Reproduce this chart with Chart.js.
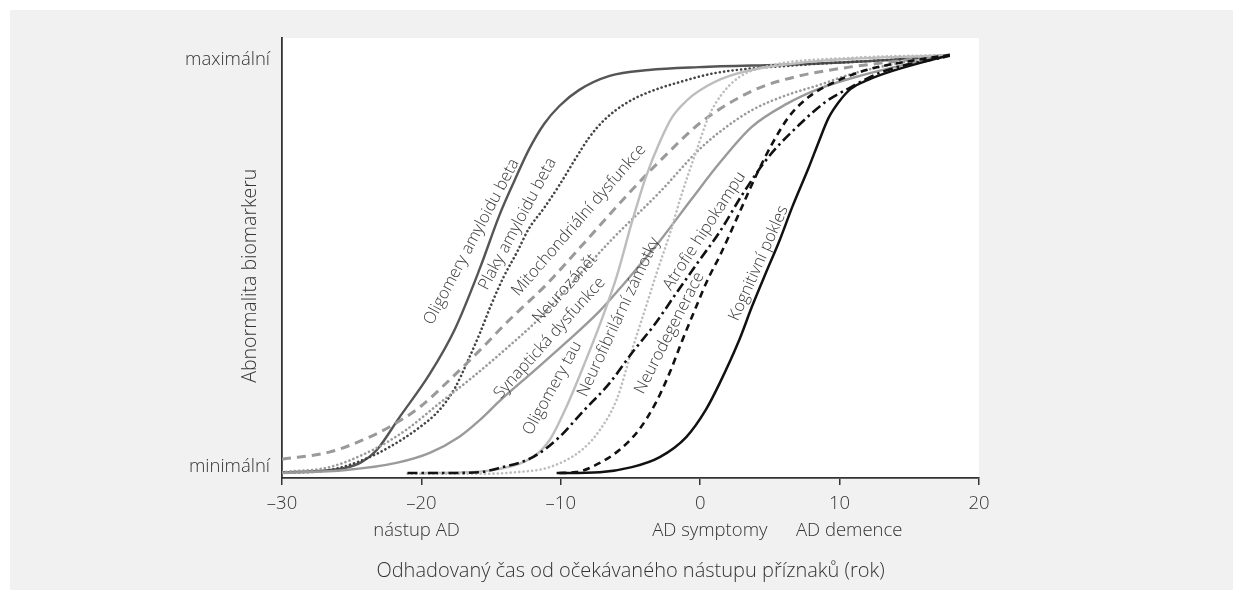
<!DOCTYPE html>
<html>
<head>
<meta charset="utf-8">
<script src="https://cdn.jsdelivr.net/npm/chart.js@4/dist/chart.umd.min.js"></script>
<style>
  html, body { margin: 0; padding: 0; background: #ffffff; width: 1243px; height: 602px; overflow: hidden; }
  #panel { position: absolute; left: 10px; top: 10px; width: 1223px; height: 580px; background: #f1f1f1; }
  #c { position: absolute; left: 0; top: 0; }
</style>
</head>
<body>
<div id="panel"></div>
<canvas id="c" width="1243" height="602"></canvas>
<script>
// ---- Data (x = years from expected symptom onset, y = biomarker abnormality 0..100) ----
const oligomeryAmyloiduBeta = [[-30,0.2],[-27.3,0.5],[-25.5,1.2],[-24.3,2.6],[-23.2,5.5],[-21.6,13.2],[-19.4,23.7],[-17.6,34.4],[-15.8,49.0],[-14.4,61.7],[-13.3,70.1],[-12.3,77.3],[-11.2,83.5],[-10.1,87.8],[-8.7,91.6],[-6.5,95.0],[-3.7,96.4],[-0.1,97.1],[7.1,97.8],[14.3,99.0],[17.9,100]];
const plakyAmyloiduBeta = [[-30,0],[-26.6,0.7],[-24.2,3.1],[-22.3,6.2],[-20.1,11.0],[-18.7,15.1],[-17.6,20.3],[-16.7,26.6],[-15.8,33.5],[-15.0,40.2],[-14.1,46.9],[-13.1,53.1],[-12.3,58.4],[-11.2,63.4],[-10.1,68.9],[-9.0,74.9],[-8.0,80.1],[-6.9,84.4],[-5.4,88.3],[-3.7,91.1],[-1.5,93.5],[1.1,95.7],[7.1,97.6],[14.3,99.0],[17.9,100]];
const mitochondrialniDysfunkce = [[-30,3.3],[-26.6,5.0],[-24.2,7.9],[-22.3,11.0],[-20.1,15.8],[-18.0,22.2],[-15.8,29.4],[-13.7,36.6],[-11.0,45.2],[-8.2,55.5],[-4.9,67.7],[-2.4,76.3],[-0.1,83.5],[2.1,88.5],[4.2,92.1],[7.1,95.0],[10.7,97.1],[14.3,98.6],[17.9,100]];
const neurozanet = [[-30,0.2],[-26.6,1.4],[-23.5,5.5],[-21.1,10.3],[-18.7,16.7],[-16.3,23.0],[-13.7,30.4],[-11.5,37.1],[-9.6,44.0],[-6.3,56.0],[-2.9,67.2],[-0.1,77.3],[1.4,81.6],[3.7,86.8],[6.2,90.4],[8.5,92.8],[10.9,95.5],[14.3,98.1],[17.9,100]];
const synaptickaDysfunkce = [[-30,0],[-25.4,0.7],[-21.8,2.4],[-19.4,4.8],[-17.3,8.6],[-15.8,12.7],[-14.4,17.2],[-12.0,24.2],[-9.6,31.3],[-7.2,38.8],[-5.8,44.0],[-4.4,49.5],[-2.9,55.5],[-0.6,65.6],[1.4,74.2],[3.7,82.8],[6.2,88.3],[8.5,91.9],[10.9,94.5],[14.3,97.4],[17.9,100]];
const oligomeryTau = [[-20.0,0],[-16.6,0.2],[-14.4,1.0],[-12.0,3.8],[-10.8,7.9],[-9.6,15.8],[-8.2,27.0],[-7.0,37.3],[-6.0,46.9],[-4.9,60.0],[-3.9,70.8],[-2.9,79.2],[-2.0,85.2],[-1.0,89.0],[-0.1,91.4],[2.1,95.0],[7.1,98.1],[17.9,100]];
const neurofibrilarniZamotky = [[-21.0,-0.2],[-15.8,-0.2],[-13.2,0.2],[-10.8,1.4],[-8.5,5.5],[-7.2,10.3],[-6.0,17.5],[-4.9,29.4],[-3.9,39.7],[-3.1,48.1],[-2.2,57.0],[-1.3,67.0],[-0.3,76.8],[0.6,85.2],[1.5,90.4],[2.8,94.7],[5.2,97.6],[10.7,99.3],[17.9,100]];
const atrofieHipokampu = [[-21.0,0],[-18.0,0],[-15.8,0.2],[-14.4,1.2],[-12.0,3.8],[-10.1,8.6],[-8.5,14.4],[-6.5,21.5],[-4.9,28.7],[-3.3,35.4],[-1.7,43.1],[-0.1,50.7],[1.4,57.7],[3.0,66.5],[4.9,75.6],[7.1,83.3],[9.0,88.8],[10.7,92.1],[13.0,95.9],[17.9,99.8]];
const neurodegenerace = [[-10.1,0],[-8.9,0.2],[-7.2,2.4],[-5.8,5.5],[-4.4,10.3],[-3.2,16.7],[-2.2,23.9],[-1.3,31.6],[-0.3,39.7],[0.6,46.7],[1.4,51.9],[2.8,62.2],[4.0,71.1],[5.2,79.0],[6.4,85.4],[7.8,90.0],[9.5,93.3],[11.9,96.4],[15.5,98.8],[17.9,100]];
const kognitivniPokles = [[-10.3,0],[-7.2,0.2],[-4.9,1.4],[-2.9,3.8],[-1.0,8.6],[0.4,15.1],[1.4,21.5],[2.8,31.8],[3.7,39.7],[4.7,47.8],[5.7,55.7],[6.6,63.6],[7.8,73.2],[8.5,79.2],[9.2,84.9],[10.0,89.0],[10.8,91.9],[12.0,94.0],[13.8,96.2],[17.9,100]];

const seriesNames = ['Oligomery amyloidu beta','Plaky amyloidu beta','Mitochondriální dysfunkce','Neurozánět','Synaptická dysfunkce','Oligomery tau','Neurofibrilární zámotky','Atrofie hipokampu','Neurodegenerace','Kognitivní pokles'];
const xTickValues = [-30,-20,-10,0,10,20];
const xTickLabels = ['–30','–20','–10','0','10','20'];
const xTickSubLabels = ['', 'nástup AD\u00A0\u00A0', '', '\u00A0\u00A0\u00A0\u00A0AD symptomy', '\u00A0\u00A0\u00A0\u00A0AD demence', ''];
const yTickValues = [1.4, 98.8];
const yTickLabels = ['minimální', 'maximální'];
const xTitle = 'Odhadovaný čas od očekávaného nástupu příznaků (rok)';
const yTitle = 'Abnormalita biomarkeru\u00A0\u00A0\u00A0\u00A0\u00A0\u00A0\u00A0';

// ---- Styles ----
const FONT = "'Open Sans', 'DejaVu Sans', sans-serif";
const seriesData = [oligomeryAmyloiduBeta, plakyAmyloiduBeta, mitochondrialniDysfunkce, neurozanet, synaptickaDysfunkce, oligomeryTau, neurofibrilarniZamotky, atrofieHipokampu, neurodegenerace, kognitivniPokles];
const seriesStyle = [
  {color:'#555555', dash:[], width:2.4, cap:'butt'},
  {color:'#444444', dash:[0.1,4.2], width:2.6, cap:'round'},
  {color:'#9a9a9a', dash:[9,6], width:3, cap:'butt'},
  {color:'#9a9a9a', dash:[0.1,4.2], width:2.6, cap:'round'},
  {color:'#9a9a9a', dash:[], width:2.4, cap:'butt'},
  {color:'#bdbdbd', dash:[], width:2.4, cap:'butt'},
  {color:'#bdbdbd', dash:[0.1,4.2], width:2.6, cap:'round'},
  {color:'#111111', dash:[10,4,2.5,4], width:2.6, cap:'butt'},
  {color:'#111111', dash:[7,5], width:2.6, cap:'butt'},
  {color:'#111111', dash:[], width:2.5, cap:'butt'}
];
// label anchors (data coords) and rotation in degrees
const labelPlacement = [
  {x:-16.4, y:55.3, a:-62},
  {x:-13.1, y:59.6, a:-62},
  {x:-8.7, y:60.5, a:-49},
  {x:-9.7, y:44.1, a:-48},
  {x:-10.8, y:32.3, a:-48},
  {x:-10.6, y:20.3, a:-61},
  {x:-5.85, y:37.3, a:-65},
  {x:0.3, y:57.9, a:-57},
  {x:-2.2, y:33.5, a:-63},
  {x:4.2, y:50.2, a:-66}
];

const datasets = seriesData.map((arr, i) => ({
  label: seriesNames[i],
  data: arr.map(p => ({x: p[0], y: p[1]})),
  borderColor: seriesStyle[i].color,
  borderWidth: seriesStyle[i].width,
  borderDash: seriesStyle[i].dash,
  borderCapStyle: seriesStyle[i].cap,
  pointRadius: 0,
  fill: false,
  cubicInterpolationMode: 'monotone',
  order: 10 - i
}));

const plotBg = {
  id: 'plotBg',
  beforeDraw(chart) {
    const {ctx, chartArea: a} = chart;
    ctx.save();
    ctx.fillStyle = '#ffffff';
    ctx.fillRect(a.left, a.top, a.right - a.left, a.bottom - a.top);
    ctx.restore();
  }
};

const curveLabels = {
  id: 'curveLabels',
  afterDatasetsDraw(chart) {
    const {ctx, scales: {x, y}} = chart;
    ctx.save();
    ctx.font = '300 16.5px ' + FONT;
    ctx.fillStyle = '#3a3a3a';
    ctx.textAlign = 'center';
    ctx.textBaseline = 'middle';
    seriesNames.forEach((name, i) => {
      const p = labelPlacement[i];
      ctx.save();
      ctx.translate(x.getPixelForValue(p.x), y.getPixelForValue(p.y));
      ctx.rotate(p.a * Math.PI / 180);
      ctx.fillText(name, 0, 0);
      ctx.restore();
    });
    ctx.restore();
  }
};

new Chart(document.getElementById('c'), {
  type: 'line',
  data: { datasets },
  options: {
    responsive: false,
    animation: false,
    devicePixelRatio: 1,
    layout: { padding: { left: 170, right: 264, top: 38, bottom: 0 } },
    plugins: { legend: { display: false }, tooltip: { enabled: false } },
    scales: {
      x: {
        type: 'linear',
        min: -30, max: 20,
        afterFit(scale) { scale.height = 124; },
        afterBuildTicks(scale) { scale.ticks = xTickValues.map(v => ({value: v})); },
        ticks: {
          autoSkip: false, maxRotation: 0, padding: 5,
          color: '#333333',
          font: { family: FONT, size: 18.5, weight: '300', lineHeight: 1.45 },
          callback(v) {
            const i = xTickValues.indexOf(v);
            return i < 0 ? '' : [xTickLabels[i], xTickSubLabels[i]];
          }
        },
        grid: { drawOnChartArea: false, drawTicks: true, tickLength: 7, color: '#333333', lineWidth: 1.5 },
        border: { display: true, color: '#333333', width: 1.8 },
        title: {
          display: true, text: xTitle, color: '#333333',
          font: { family: FONT, size: 20, weight: '300' },
          padding: { top: 0, bottom: 19 }
        }
      },
      y: {
        type: 'linear',
        min: -1.2, max: 104.07,
        afterFit(scale) { scale.width = 112; },
        afterBuildTicks(scale) { scale.ticks = yTickValues.map(v => ({value: v})); },
        ticks: {
          padding: 12, color: '#333333',
          font: { family: FONT, size: 18.5, weight: '300' },
          callback(v) {
            const i = yTickValues.indexOf(v);
            return i < 0 ? '' : yTickLabels[i];
          }
        },
        grid: { drawOnChartArea: false, drawTicks: false },
        border: { display: true, color: '#333333', width: 1.8 },
        title: {
          display: true, text: yTitle, color: '#333333',
          font: { family: FONT, size: 19.5, weight: '300' },
          padding: { top: 69, bottom: 0 }
        }
      }
    }
  },
  plugins: [plotBg, curveLabels]
});
</script>
</body>
</html>
